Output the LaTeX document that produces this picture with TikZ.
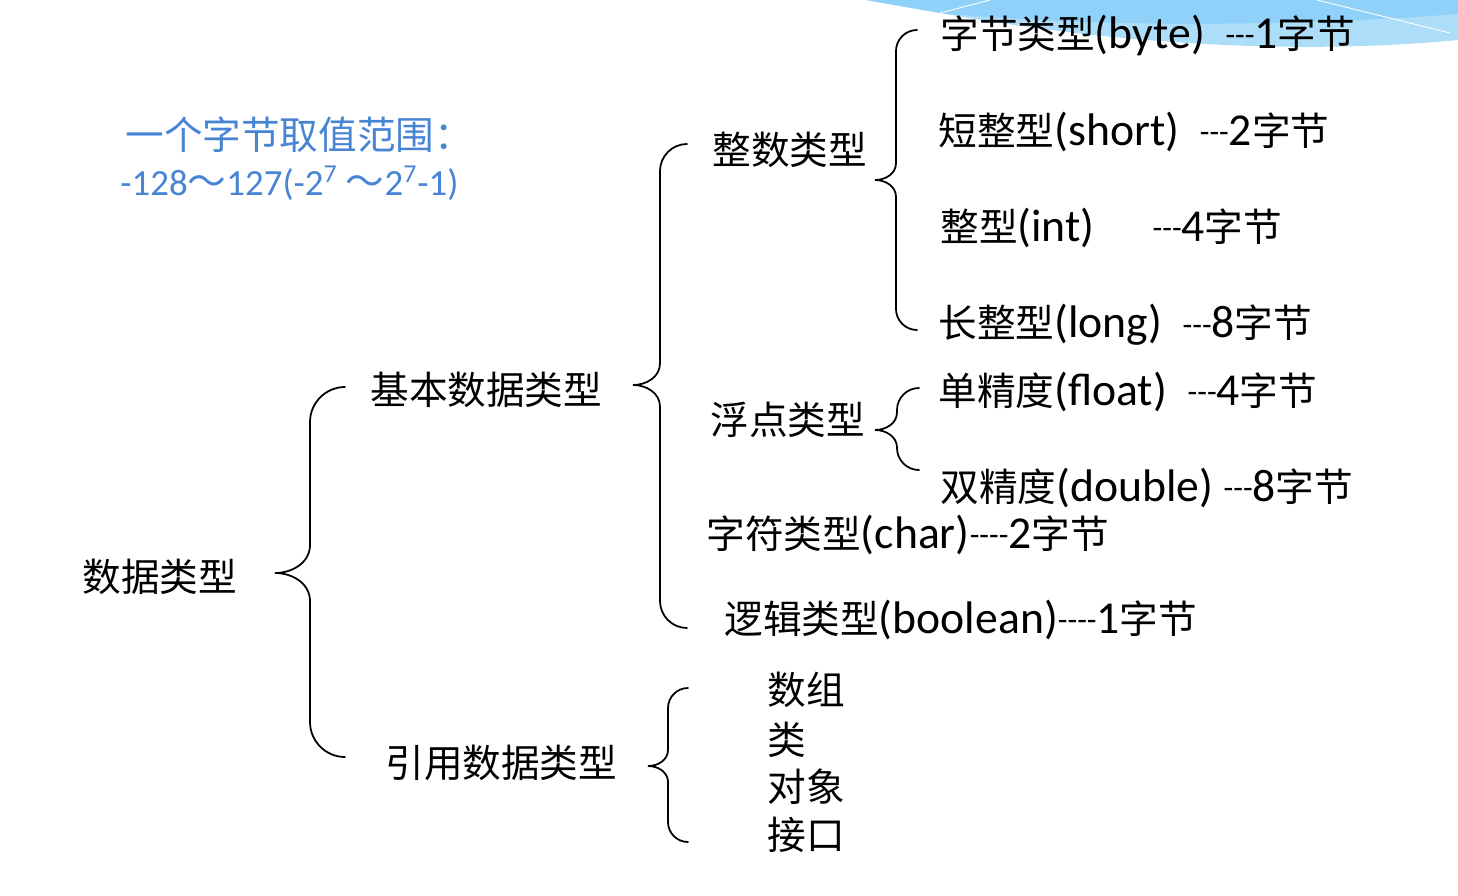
\documentclass[tikz,border=0pt]{standalone}
\usepackage{fontspec}
\setmainfont{Carlito}
\newfontfamily\cjk{Noto Sans CJK SC}
\newcommand\zh[1]{{\cjk\fontsize{22}{26}\selectfont #1}}
\newcommand\dashes[1]{\raisebox{1.5pt}{\fontsize{18}{22}\selectfont #1}}
\usetikzlibrary{positioning}
\definecolor{rangeblue}{RGB}{72,132,212}
\definecolor{skyA}{RGB}{143,209,248}
\definecolor{skyB}{RGB}{172,222,250}

% left curly brace: tip x, tip y, line x, top y, bottom y
\newcommand\curly[5]{%
  \draw[bracket] ({2*#3-#1},#4) .. controls ({#3+0.45*(#3-#1)},#4) and (#3,{#4+0.45*(#3-#1)}) .. (#3,{#4+(#3-#1)})
    -- (#3,{#2-0.8*(#3-#1)}) .. controls (#3,{#2-0.3*(#3-#1)}) and ({#1+0.5*(#3-#1)},#2) .. (#1,#2)
    .. controls ({#1+0.5*(#3-#1)},#2) and (#3,{#2+0.3*(#3-#1)}) .. (#3,{#2+0.8*(#3-#1)})
    -- (#3,{#5-(#3-#1)}) .. controls (#3,{#5-0.45*(#3-#1)}) and ({#3+0.45*(#3-#1)},#5) .. ({2*#3-#1},#5);}

\tikzset{
  item/.style={anchor=west, inner sep=0pt, font=\fontsize{26}{30}\selectfont},
  bracket/.style={line width=1pt, line cap=round},
}

\begin{document}
\begin{tikzpicture}[x=0.02cm, y=-0.02cm]
  \useasboundingbox (0,0) rectangle (1458,896);

  % top corner decoration
  \fill[skyB] (866,0) -- (940,13) .. controls (1120,45) and (1300,55) .. (1458,40) -- (1458,0) -- cycle;
  \fill[skyA] (866,0) -- (940,13) .. controls (1100,28) and (1300,26) .. (1458,14) -- (1458,0) -- cycle;
  \draw[white, line width=0.5pt] (940,13) -- (990,0);
  \draw[white, line width=0.5pt] (1317,0) -- (1450,33);

  % value range note
  \node[item, rangeblue] (rangeA) at (125,135) {\zh{一个字节取值范围：}};
  \node[item, rangeblue, font=\fontsize{21}{25}\selectfont] (rangeB) at (120,183)
    {-128\zh{～}127(-2\textsuperscript{7}\ \zh{～}2\textsuperscript{7}-1)};

  \node[item] (dtype) at (82,577) {\zh{数据类型}};
  \node[item] (basic) at (370,390) {\zh{基本数据类型}};
  \node[item] (ref) at (385,763) {\zh{引用数据类型}};

  \node[item] (intt) at (712,150) {\zh{整数类型}};
  \node[item] (floatt) at (710,420) {\zh{浮点类型}};
  \node[item] (chart) at (706,535) {\zh{字符类型}(char)\dashes{-{}-{}-{}-}2\zh{字节}};
  \node[item] (boolt) at (724,620) {\zh{逻辑类型}(boolean)\dashes{-{}-{}-{}-}1\zh{字节}};

  \node[item] (byte) at (940,35) {\zh{字节类型}(byte)\ \ \dashes{-{}-{}-}1\zh{字节}};
  \node[item] (short) at (938,132) {\zh{短整型}(short)\ \ \dashes{-{}-{}-}2\zh{字节}};
  \node[item] (int) at (940,228) {\zh{整型}(int)\hspace{33pt}\dashes{-{}-{}-}4\zh{字节}};
  \node[item] (long) at (938,325) {\zh{长整型}(long)\ \ \dashes{-{}-{}-}8\zh{字节}};
  \node[item] (single) at (938,392) {\zh{单精度}(float)\ \ \dashes{-{}-{}-}4\zh{字节}};
  \node[item] (double) at (940,488) {\zh{双精度}(double)\ \dashes{-{}-{}-}8\zh{字节}};

  \node[item] (arr) at (767,690) {\zh{数组}};
  \node[item] (cls) at (767,740) {\zh{类}};
  \node[item] (obj) at (767,787) {\zh{对象}};
  \node[item] (iface) at (767,835) {\zh{接口}};

  % braces
  \curly{275}{573}{310}{387}{757}
  \curly{633}{385}{660}{144}{628}
  \curly{875}{180}{896}{30}{330}
  \curly{875}{430}{897}{388}{470}
  \curly{648}{766}{668}{688}{842}
\end{tikzpicture}
\end{document}
